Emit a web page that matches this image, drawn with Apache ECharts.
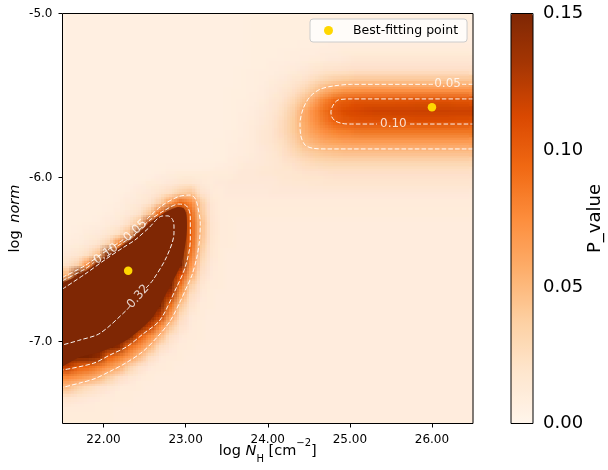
<!DOCTYPE html>
<html>
<head>
<meta charset="utf-8">
<script src="https://cdn.jsdelivr.net/npm/echarts@6/dist/echarts.min.js"></script>
<style>html,body{margin:0;padding:0;background:#fff}#chart{width:608px;height:470px}</style>
</head>
<body>
<div id="chart"></div>
<script>
// cell centres of the P_value map (log N_H, columns) and (log norm, rows from bottom)
const nhCells = [21.5625,21.6875,21.8125,21.9375,22.0625,22.1875,22.3125,22.4375,22.5625,22.6875,
  22.8125,22.9375,23.0625,23.1875,23.3125,23.4375,23.5625,23.6875,23.8125,23.9375,
  24.0625,24.1875,24.3125,24.4375,24.5625,24.6875,24.8125,24.9375,25.0625,25.1875,
  25.3125,25.4375,25.5625,25.6875,25.8125,25.9375,26.0625,26.1875,26.3125,26.4375];
const normCells = [-7.46875,-7.40625,-7.34375,-7.28125,-7.21875,-7.15625,-7.09375,-7.03125,-6.96875,-6.90625,
  -6.84375,-6.78125,-6.71875,-6.65625,-6.59375,-6.53125,-6.46875,-6.40625,-6.34375,-6.28125,
  -6.21875,-6.15625,-6.09375,-6.03125,-5.96875,-5.90625,-5.84375,-5.78125,-5.71875,-5.65625,
  -5.59375,-5.53125,-5.46875,-5.40625,-5.34375,-5.28125,-5.21875,-5.15625,-5.09375,-5.03125];

// P_value per cell, rows listed from the top (log norm = -5.03) to the bottom (-7.47)
const pValues = [
[.003,.003,.003,.003,.003,.003,.003,.003,.003,.003, .003,.003,.003,.003,.003,.003,.003,.003,.004,.004, .004,.004,.004,.004,.004,.004,.004,.004,.004,.004, .004,.004,.004,.004,.004,.004,.004,.004,.004,.004],
[.003,.003,.003,.003,.003,.003,.003,.003,.003,.003, .003,.003,.003,.003,.003,.003,.003,.003,.004,.004, .004,.004,.004,.004,.004,.004,.004,.004,.004,.004, .004,.004,.004,.004,.004,.004,.004,.004,.004,.004],
[.003,.003,.003,.003,.003,.003,.003,.003,.003,.003, .003,.003,.003,.003,.003,.003,.003,.003,.004,.004, .004,.004,.004,.004,.004,.004,.005,.005,.006,.006, .006,.006,.006,.006,.006,.006,.006,.006,.006,.006],
[.003,.003,.003,.003,.003,.003,.003,.003,.003,.003, .003,.003,.003,.003,.003,.003,.003,.003,.004,.004, .004,.005,.005,.006,.006,.007,.007,.008,.008,.008, .008,.008,.008,.008,.008,.008,.008,.008,.008,.008],
[.003,.003,.003,.003,.003,.003,.003,.003,.003,.003, .003,.003,.003,.003,.003,.003,.003,.003,.004,.004, .005,.005,.006,.007,.008,.009,.010,.011,.012,.012, .012,.012,.012,.012,.012,.012,.012,.012,.012,.012],
[.003,.003,.003,.003,.003,.003,.003,.003,.003,.003, .003,.003,.003,.003,.003,.003,.003,.004,.005,.005, .006,.007,.009,.011,.014,.016,.018,.019,.020,.020, .020,.020,.020,.020,.020,.020,.020,.020,.020,.020],
[.003,.003,.003,.003,.003,.003,.003,.003,.003,.003, .003,.003,.003,.003,.003,.003,.003,.004,.005,.006, .008,.010,.014,.018,.024,.030,.035,.038,.040,.040, .040,.040,.040,.040,.040,.040,.040,.040,.040,.040],
[.003,.003,.003,.003,.003,.003,.003,.003,.003,.003, .003,.003,.003,.003,.003,.003,.004,.004,.005,.007, .010,.014,.020,.028,.040,.053,.062,.067,.069,.070, .070,.070,.070,.070,.070,.070,.070,.070,.070,.070],
[.003,.003,.003,.003,.003,.003,.003,.003,.003,.003, .003,.003,.003,.003,.003,.003,.004,.005,.006,.008, .012,.018,.028,.042,.060,.078,.092,.099,.102,.103, .103,.103,.104,.104,.105,.105,.105,.105,.104,.104],
[.003,.003,.003,.003,.003,.003,.003,.003,.003,.003, .003,.003,.003,.003,.003,.003,.004,.005,.007,.010, .014,.022,.035,.055,.072,.088,.101,.108,.112,.114, .115,.115,.116,.116,.117,.117,.117,.117,.116,.116],
[.003,.003,.003,.003,.003,.003,.003,.003,.003,.003, .003,.003,.003,.003,.003,.003,.004,.006,.008,.011, .016,.025,.038,.056,.070,.083,.096,.101,.104,.105, .105,.105,.106,.106,.107,.107,.107,.107,.106,.106],
[.003,.003,.003,.003,.003,.003,.003,.003,.003,.003, .003,.003,.003,.003,.003,.003,.005,.006,.009,.012, .017,.026,.038,.052,.063,.072,.078,.082,.084,.085, .085,.085,.085,.085,.085,.085,.085,.085,.085,.085],
[.003,.003,.003,.003,.003,.003,.003,.003,.003,.003, .003,.003,.003,.003,.003,.004,.005,.007,.009,.012, .016,.023,.033,.046,.053,.058,.062,.064,.065,.065, .065,.065,.065,.065,.065,.065,.065,.065,.065,.065],
[.003,.003,.003,.003,.003,.003,.003,.003,.003,.003, .003,.003,.003,.003,.003,.004,.006,.007,.009,.011, .014,.020,.027,.034,.039,.042,.044,.045,.045,.045, .045,.045,.045,.045,.045,.045,.045,.045,.045,.045],
[.003,.003,.003,.003,.003,.003,.003,.003,.003,.003, .003,.003,.003,.003,.004,.005,.007,.009,.010,.011, .012,.016,.020,.024,.027,.029,.030,.030,.030,.030, .030,.030,.030,.030,.030,.030,.030,.030,.030,.030],
[.003,.003,.003,.003,.003,.003,.003,.003,.003,.005, .007,.008,.008,.008,.008,.008,.009,.011,.011,.012, .013,.014,.015,.017,.018,.019,.020,.020,.020,.020, .020,.020,.020,.020,.020,.020,.020,.020,.020,.020],
[.003,.003,.003,.003,.003,.003,.003,.005,.0075,.009, .011,.013,.014,.011,.009,.010,.011,.011,.011,.011, .011,.012,.013,.013,.014,.015,.015,.015,.015,.015, .015,.015,.015,.015,.015,.015,.015,.015,.015,.015],
[.003,.003,.003,.003,.003,.004,.006,.009,.011,.016, .023,.034,.040,.017,.010,.009,.010,.010,.010,.010, .011,.011,.011,.011,.011,.011,.011,.011,.011,.011, .011,.011,.011,.011,.011,.011,.011,.011,.011,.011],
[.003,.003,.003,.003,.004,.006,.009,.011,.017,.033, .065,.094,.075,.035,.012,.009,.009,.009,.009,.009, .009,.009,.009,.009,.009,.009,.009,.009,.009,.009, .009,.009,.009,.009,.009,.009,.009,.009,.009,.009],
[.003,.003,.003,.004,.006,.0075,.011,.019,.040,.097, .18,.22,.090,.040,.014,.0085,.008,.008,.008,.008, .008,.008,.008,.008,.008,.008,.008,.008,.008,.008, .008,.008,.008,.008,.008,.008,.008,.008,.008,.008],
[.003,.004,.005,.006,.0085,.011,.021,.042,.13,.34, .36,.22,.098,.047,.015,.0085,.0075,.007,.007,.007, .007,.007,.007,.007,.007,.007,.007,.007,.007,.007, .007,.007,.007,.007,.007,.007,.007,.007,.007,.007],
[.004,.006,.008,.010,.014,.023,.045,.25,.36,.40, .33,.22,.098,.045,.015,.0085,.0075,.007,.007,.007, .007,.007,.007,.007,.007,.007,.007,.007,.007,.007, .007,.007,.007,.007,.007,.007,.007,.007,.007,.007],
[.007,.008,.011,.017,.031,.078,.32,.40,.45,.42, .32,.22,.093,.040,.014,.009,.0075,.007,.007,.007, .007,.007,.007,.007,.007,.007,.007,.007,.007,.007, .007,.007,.007,.007,.007,.007,.007,.007,.007,.007],
[.011,.014,.022,.043,.20,.36,.42,.44,.42,.38, .28,.20,.083,.033,.013,.008,.007,.007,.007,.007, .007,.007,.007,.007,.007,.007,.007,.007,.007,.007, .007,.007,.007,.007,.007,.007,.007,.007,.007,.007],
[.020,.032,.070,.32,.38,.42,.46,.46,.43,.34, .26,.17,.072,.026,.011,.0075,.007,.007,.007,.007, .007,.007,.007,.007,.007,.007,.007,.007,.007,.007, .007,.007,.007,.007,.007,.007,.007,.007,.007,.007],
[.050,.17,.35,.40,.44,.47,.50,.47,.42,.28, .21,.11,.056,.020,.0095,.0075,.007,.007,.007,.007, .007,.007,.007,.007,.007,.007,.007,.007,.007,.007, .007,.007,.007,.007,.007,.007,.007,.007,.007,.007],
[.30,.36,.40,.43,.46,.47,.47,.38,.30,.25, .17,.085,.035,.014,.0085,.0075,.007,.007,.007,.007, .007,.007,.007,.007,.007,.007,.007,.007,.007,.007, .007,.007,.007,.007,.007,.007,.007,.007,.007,.007],
[.36,.40,.42,.44,.45,.44,.38,.32,.25,.20, .125,.062,.023,.011,.008,.007,.007,.007,.007,.007, .007,.007,.007,.007,.007,.007,.007,.007,.007,.007, .007,.007,.007,.007,.007,.007,.007,.007,.007,.007],
[.35,.38,.40,.41,.40,.37,.33,.27,.22,.17, .087,.040,.016,.009,.0075,.007,.007,.007,.007,.007, .007,.007,.007,.007,.007,.007,.007,.007,.007,.007, .007,.007,.007,.007,.007,.007,.007,.007,.007,.007],
[.35,.37,.38,.38,.36,.33,.27,.22,.18,.12, .064,.025,.011,.0085,.007,.007,.007,.007,.007,.007, .007,.007,.007,.007,.007,.007,.007,.007,.007,.007, .007,.007,.007,.007,.007,.007,.007,.007,.007,.007],
[.34,.35,.35,.34,.32,.26,.21,.17,.12,.075, .040,.017,.010,.008,.007,.007,.007,.007,.007,.007, .007,.007,.007,.007,.007,.007,.007,.007,.007,.007, .007,.007,.007,.007,.007,.007,.007,.007,.007,.007],
[.34,.33,.32,.28,.25,.21,.17,.10,.074,.047, .020,.011,.009,.0075,.007,.007,.007,.007,.007,.007, .007,.007,.007,.007,.007,.007,.007,.007,.007,.007, .007,.007,.007,.007,.007,.007,.007,.007,.007,.007],
[.29,.27,.25,.20,.18,.14,.090,.072,.050,.022, .012,.009,.008,.007,.007,.007,.007,.007,.007,.007, .007,.007,.007,.007,.007,.007,.007,.007,.007,.007, .007,.007,.007,.007,.007,.007,.007,.007,.007,.007],
[.20,.18,.16,.14,.095,.082,.065,.045,.022,.011, .009,.008,.007,.007,.007,.007,.007,.007,.007,.007, .007,.007,.007,.007,.007,.007,.007,.007,.007,.007, .007,.007,.007,.007,.007,.007,.007,.007,.007,.007],
[.12,.098,.092,.080,.068,.055,.032,.017,.011,.009, .008,.007,.007,.007,.007,.007,.007,.007,.007,.007, .007,.007,.007,.007,.007,.007,.007,.007,.007,.007, .007,.007,.007,.007,.007,.007,.007,.007,.007,.007],
[.075,.068,.060,.050,.034,.021,.014,.010,.008,.007, .007,.007,.007,.007,.007,.007,.007,.007,.007,.007, .007,.007,.007,.007,.007,.007,.007,.007,.007,.007, .007,.007,.007,.007,.007,.007,.007,.007,.007,.007],
[.045,.033,.024,.018,.013,.010,.009,.008,.007,.007, .007,.007,.007,.007,.007,.007,.007,.007,.007,.007, .007,.007,.007,.007,.007,.007,.007,.007,.007,.007, .007,.007,.007,.007,.007,.007,.007,.007,.007,.007],
[.016,.013,.011,.0095,.0085,.008,.0075,.007,.007,.007, .007,.007,.007,.007,.007,.007,.007,.007,.007,.007, .007,.007,.007,.007,.007,.007,.007,.007,.007,.007, .007,.007,.007,.007,.007,.007,.007,.007,.007,.007],
[.009,.009,.0085,.008,.008,.007,.007,.007,.007,.007, .007,.007,.007,.007,.007,.007,.007,.007,.007,.007, .007,.007,.007,.007,.007,.007,.007,.007,.007,.007, .007,.007,.007,.007,.007,.007,.007,.007,.007,.007],
[.0075,.0075,.0075,.0075,.0075,.007,.007,.007,.007,.007, .007,.007,.007,.007,.007,.007,.007,.007,.007,.007, .007,.007,.007,.007,.007,.007,.007,.007,.007,.007, .007,.007,.007,.007,.007,.007,.007,.007,.007,.007]
];

// tick labels
const nhTicks = [22, 23, 24, 25, 26];
const normTicks = [-7, -6, -5];
const pTicks = [0, 0.05, 0.10, 0.15];

// best-fitting points [log N_H, log norm]
const bestFit = [[22.30, -6.568], [26.00, -5.572]];

// boundary of the region where P_value >= 0.15 (colour saturated)
const sat15Low = [[21.45,-6.643],[21.5,-6.643],[21.774,-6.573],[22.03,-6.482],[22.249,-6.409],[22.383,-6.36],
  [22.55,-6.28],[22.748,-6.213],[22.907,-6.18],[22.98,-6.189],[23.01,-6.229],[23.016,-6.308],[23.004,-6.381],
  [22.955,-6.515],[22.785,-6.686],[22.59,-6.857],[22.282,-6.991],[21.957,-7.064],[21.713,-7.095],[21.5,-7.152],[21.45,-7.152]];

// contour paths (split where the inline labels sit)
const c05LowA = [[21.5,-6.609],[21.774,-6.537],[22.03,-6.448],[22.261,-6.372]];
const c05LowB = [[22.529,-6.253],[22.712,-6.171],[22.915,-6.116],[23.057,-6.107],[23.108,-6.122],[23.138,-6.157],
  [23.178,-6.279],[23.169,-6.381],[23.138,-6.483],[23.077,-6.595],[23.013,-6.668],[22.931,-6.759],[22.809,-6.877],
  [22.663,-6.968],[22.481,-7.06],[22.261,-7.134],[22.079,-7.182],[21.896,-7.226],[21.713,-7.253],[21.5,-7.28]];
const c10LowA = [[21.5,-6.629],[21.774,-6.558],[21.884,-6.518]];
const c10LowB = [[22.17,-6.418],[22.249,-6.393],[22.383,-6.345],[22.55,-6.265],[22.752,-6.198],[22.915,-6.162],
  [22.996,-6.168],[23.036,-6.192],[23.057,-6.239],[23.057,-6.381],[22.996,-6.544],[22.874,-6.686],[22.688,-6.869],
  [22.481,-6.954],[22.282,-7.032],[22.079,-7.082],[21.875,-7.133],[21.5,-7.174]];
const c32LowA = [[21.5,-6.68],[21.774,-6.589],[22.03,-6.497],[22.249,-6.424],[22.383,-6.381],[22.55,-6.308],
  [22.712,-6.235],[22.785,-6.234],[22.84,-6.256],[22.858,-6.296],[22.858,-6.338],[22.769,-6.483],[22.602,-6.625],[22.517,-6.674]];
const c32LowB = [[22.322,-6.784],[22.282,-6.808],[21.957,-6.95],[21.713,-6.991],[21.5,-7.021]];
const c05UpA = [[26.5,-5.432],[26.366,-5.432]];
const c05UpB = [[26.013,-5.432],[25.022,-5.432],[24.798,-5.442],[24.636,-5.462],[24.515,-5.507],[24.433,-5.578],
  [24.393,-5.67],[24.401,-5.741],[24.454,-5.802],[24.555,-5.822],[24.718,-5.826],[26.5,-5.826]];
const c10UpA = [[26.5,-5.521],[25.022,-5.521],[24.859,-5.527],[24.798,-5.558],[24.77,-5.599],[24.779,-5.629],
  [24.819,-5.654],[24.901,-5.67],[25.0,-5.674],[25.331,-5.674]];
const c10UpB = [[25.733,-5.674],[26.5,-5.674]];
const contourLevelLabels = ['0.05', '0.10', '0.32', '0.05', '0.10'];
const contourLabelPos = [[22.387,-6.325],[22.03,-6.466],[22.42,-6.726],[26.19,-5.432],[25.53,-5.671]];
const contourLabelAngle = [42, 35, 49, 0, 0];

const orangesColors = ['#fff5eb','#fee6ce','#fdd0a2','#fdae6b','#fd8d3c','#f16913','#d94801','#a63603','#7f2704'];
const FONT = 'DejaVu Sans';

// cells of the map: [log N_H centre, log norm centre, P_value]
const cellData = [];
pValues.forEach((row, r) => row.forEach((v, i) => cellData.push([nhCells[i], normCells[pValues.length - 1 - r], v])));
const cellW = nhCells[1] - nhCells[0];
const cellH = normCells[1] - normCells[0];

// smooth (imshow-like) rendering: the same cells drawn at sub-cell shifts and averaged
const subShifts = [[0, 0]];
const frac = [-0.375, -0.125, 0.125, 0.375];
frac.forEach(fx => frac.forEach(fy => subShifts.push([fx, fy])));
const cellSeries = subShifts.map((sh, k) => ({
  type: 'custom', coordinateSystem: 'cartesian2d', xAxisIndex: 0, yAxisIndex: 0,
  data: cellData, clip: true, silent: true, z: 1, progressive: 0,
  encode: { x: 0, y: 1 },
  renderItem: (params, api) => {
    const x = api.value(0), y = api.value(1);
    const p0 = api.coord([x - cellW / 2, y + cellH / 2]);
    const p1 = api.coord([x + cellW / 2, y - cellH / 2]);
    const w = p1[0] - p0[0], h = p1[1] - p0[1];
    const x0 = Math.round(p0[0] + sh[0] * w), x1 = Math.round(p1[0] + sh[0] * w);
    const y0 = Math.round(p0[1] + sh[1] * h), y1 = Math.round(p1[1] + sh[1] * h);
    return { type: 'rect', shape: { x: x0, y: y0, width: x1 - x0, height: y1 - y0 },
      style: { fill: api.visual('color'), opacity: 1 / (k + 1) } };
  }
}));

const satSeries = {
  type: 'custom', coordinateSystem: 'cartesian2d', xAxisIndex: 0, yAxisIndex: 0,
  data: [sat15Low[1]], clip: true, silent: true, z: 2, encode: { x: 0, y: 1 },
  renderItem: (params, api) => ({
    type: 'polygon',
    shape: { points: sat15Low.map(p => api.coord(p)), smooth: 0.25 },
    style: { fill: orangesColors[orangesColors.length - 1] }
  })
};

const contourPaths = [c05LowA, c05LowB, c10LowA, c10LowB, c32LowA, c32LowB, c05UpA, c05UpB, c10UpA, c10UpB];
const contourSeries = contourPaths.map(p => ({
  type: 'line', xAxisIndex: 0, yAxisIndex: 0, data: p, symbol: 'none', showSymbol: false,
  smooth: 0.3, silent: true, z: 3,
  lineStyle: { color: '#ffffff', width: 1, type: [4.5, 2.2], opacity: 0.95 }
}));
const labelData = contourLabelPos.map((p, k) => ({
  value: p, label: { formatter: contourLevelLabels[k], rotate: contourLabelAngle[k] }
}));

const chart = echarts.init(document.getElementById('chart'), null, { renderer: 'canvas' });
chart.setOption({
  animation: false,
  textStyle: { fontFamily: FONT },
  grid: [
    { left: 62.5, top: 13.5, width: 410.5, height: 410, containLabel: false, outerBoundsMode: 'none',
      show: true, borderColor: '#000', borderWidth: 1, backgroundColor: 'transparent', z: 10 },
    { left: 511, top: 13.5, width: 22, height: 410, containLabel: false, outerBoundsMode: 'none',
      show: true, borderColor: '#000', borderWidth: 1, backgroundColor: 'transparent', z: 10 }
  ],
  legend: {
    data: ['Best-fitting point'], left: 310, top: 19, orient: 'horizontal',
    icon: 'circle', itemWidth: 9, itemHeight: 9, padding: [5, 9, 5, 14],
    backgroundColor: 'rgba(255,255,255,0.8)', borderColor: '#cccccc', borderWidth: 1, borderRadius: 3,
    textStyle: { fontFamily: FONT, fontSize: 12.5, color: '#000', padding: [0, 0, 0, 15] }, selectedMode: false, z: 12
  },
  xAxis: [
    { type: 'value', gridIndex: 0, min: 21.5, max: 26.5, position: 'bottom',
      axisLine: { show: false }, splitLine: { show: false },
      axisTick: { show: true, length: 4, customValues: nhTicks, lineStyle: { color: '#000', width: 1 } },
      axisLabel: { customValues: nhTicks, formatter: v => v.toFixed(2), fontSize: 12, color: '#000', margin: 10, fontFamily: FONT },
      name: '{a|log }{i|N}{s|H}{a| [cm}{p|−2}{a|]}', nameLocation: 'middle', nameGap: 15, nameMoveOverlap: false,
      nameTextStyle: { rich: {
        a: { fontSize: 14.5, fontFamily: FONT, color: '#000', lineHeight: 26 },
        i: { fontSize: 14.5, fontFamily: FONT, fontStyle: 'italic', color: '#000', lineHeight: 26 },
        s: { fontSize: 10, fontFamily: FONT, color: '#000', lineHeight: 14, verticalAlign: 'bottom' },
        p: { fontSize: 10, fontFamily: FONT, color: '#000', lineHeight: 6, verticalAlign: 'top' }
      } } },
    { type: 'value', gridIndex: 1, min: 0, max: 1, show: false }
  ],
  yAxis: [
    { type: 'value', gridIndex: 0, min: -7.5, max: -5.0, position: 'left',
      axisLine: { show: false }, splitLine: { show: false },
      axisTick: { show: true, length: 4, customValues: normTicks, lineStyle: { color: '#000', width: 1 } },
      axisLabel: { customValues: normTicks, formatter: v => v.toFixed(1), fontSize: 12, color: '#000', margin: 10, fontFamily: FONT },
      name: '{a|log }{b|norm}', nameLocation: 'middle', nameGap: 40, nameRotate: 90, nameMoveOverlap: false,
      nameTextStyle: { rich: {
        a: { fontSize: 14.5, fontFamily: FONT, color: '#000' },
        b: { fontSize: 14.5, fontFamily: FONT, fontStyle: 'italic', color: '#000', padding: [0, 0, 0, 3] }
      } } },
    { type: 'value', gridIndex: 1, min: 0, max: 0.15, interval: 0.05, position: 'right',
      axisLine: { show: false }, splitLine: { show: false },
      axisTick: { show: true, length: 4, lineStyle: { color: '#000', width: 1 } },
      axisLabel: { formatter: v => v.toFixed(2), fontSize: 18, color: '#000', margin: 10, fontFamily: FONT },
      name: 'P_value', nameLocation: 'middle', nameGap: 53, nameRotate: 90, nameMoveOverlap: false,
      nameTextStyle: { fontSize: 18, fontFamily: FONT, color: '#000' } }
  ],
  visualMap: {
    type: 'continuous', seriesIndex: cellSeries.map((s, k) => k), dimension: 2, min: 0, max: 0.15,
    inRange: { color: orangesColors }, calculable: false, hoverLink: false,
    orient: 'vertical', left: 511, top: 13.5, itemWidth: 22, itemHeight: 410, padding: 0, z: 4
  },
  series: [
    ...cellSeries,
    satSeries,
    ...contourSeries,
    { type: 'scatter', xAxisIndex: 0, yAxisIndex: 0, data: labelData, symbolSize: 1, silent: true, z: 4,
      itemStyle: { color: 'rgba(0,0,0,0)' },
      label: { show: true, position: 'inside', color: '#ffffff', fontSize: 12, fontFamily: FONT } },
    { type: 'scatter', name: 'Best-fitting point', xAxisIndex: 0, yAxisIndex: 0, data: bestFit,
      symbolSize: 8.5, itemStyle: { color: '#FFD700', opacity: 1 }, z: 5 }
  ]
});
</script>
</body>
</html>
